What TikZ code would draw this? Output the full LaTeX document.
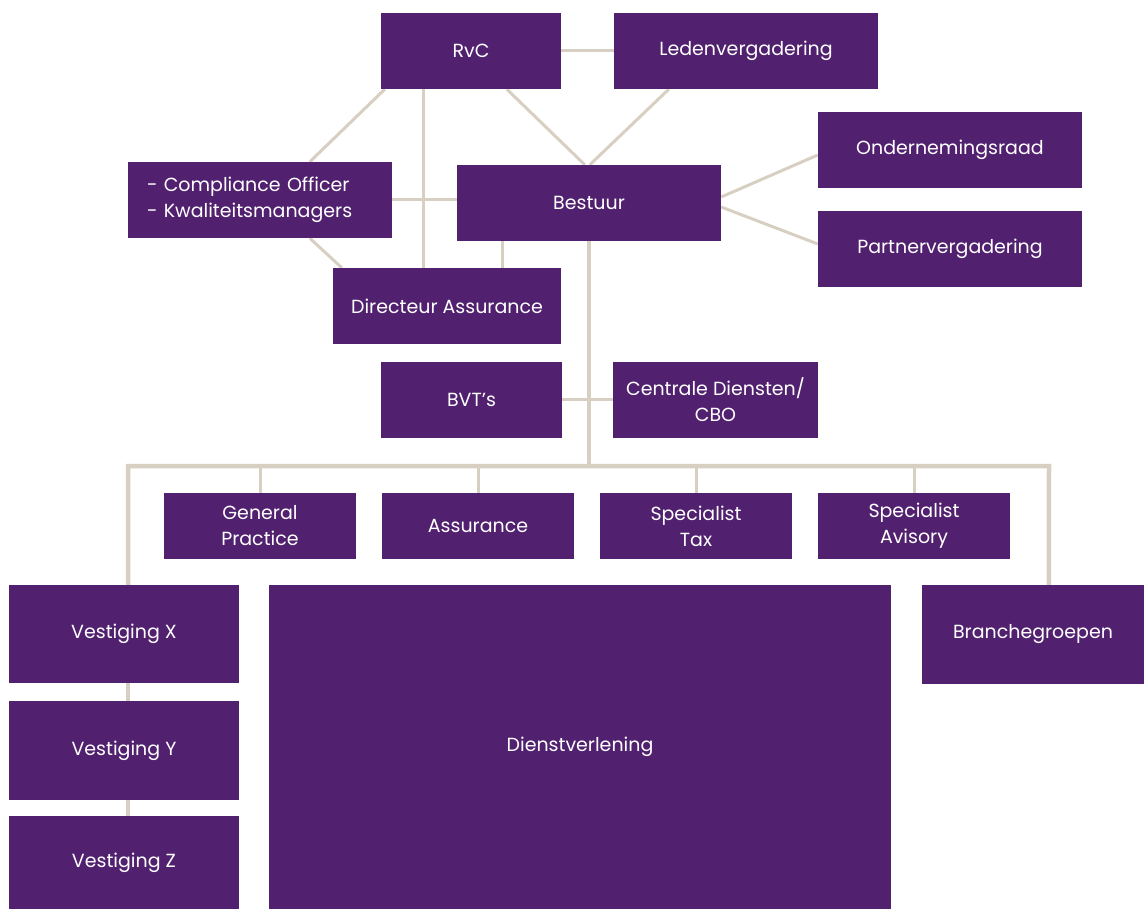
\documentclass[tikz,border=0pt]{standalone}
\usepackage{fontspec}
\setmainfont{Poppins}
\usetikzlibrary{calc,backgrounds}
\definecolor{plum}{HTML}{51216F}
\definecolor{sand}{HTML}{D8CFC3}
\tikzset{
  box/.style={fill=plum, text=white, inner sep=0pt, align=center,
    font=\fontsize{19}{26}\selectfont},
  thinline/.style={draw=sand, line width=3pt},
  thickline/.style={draw=sand, line width=4.5pt},
}
\begin{document}
\begin{tikzpicture}[x=1pt, y=-1pt]
\useasboundingbox (0,0) rectangle (1144,909);

% top governance
\node[box, minimum width=180, minimum height=76] (rvc) at (471,51) {RvC};
\node[box, minimum width=264, minimum height=76] (leden) at (746,51) {Ledenvergadering};
\node[box, minimum width=264, minimum height=76] (ond) at (950,150) {Ondernemingsraad};
\node[box, minimum width=264, minimum height=76] (partner) at (950,249) {Partnervergadering};
\node[box, minimum width=264, minimum height=76, text width=226, inner xsep=19pt, align=left] (comp) at (260,200) {- Compliance Officer\\- Kwaliteitsmanagers};
\node[box, minimum width=264, minimum height=76] (bestuur) at (589,203) {Bestuur};
\node[box, minimum width=228, minimum height=76] (dir) at (447,306) {Directeur Assurance};
\node[box, minimum width=181, minimum height=76] (bvt) at (471.5,400) {BVT’s};
\node[box, minimum width=205, minimum height=76] (cbo) at (715.5,400) {Centrale Diensten/\\CBO};

% practice groups
\node[box, minimum width=192, minimum height=66] (gp) at (260,526) {General\\Practice};
\node[box, minimum width=192, minimum height=66] (ass) at (478,526) {Assurance};
\node[box, minimum width=192, minimum height=66] (tax) at (696,526) {Specialist\\Tax};
\node[box, minimum width=192, minimum height=66] (adv) at (914,526) {Specialist\\Avisory};

% bottom row
\node[box, minimum width=230, minimum height=98] (vx) at (124,634) {Vestiging X};
\node[box, minimum width=230, minimum height=99] (vy) at (124,750.5) {Vestiging Y};
\node[box, minimum width=230, minimum height=93] (vz) at (124,862.5) {Vestiging Z};
\node[box, minimum width=622, minimum height=324] (dienst) at (580,747) {Dienstverlening};
\node[box, minimum width=222, minimum height=99] (branche) at (1033,634.5) {Branchegroepen};

\begin{scope}[on background layer]
  % thin relations
  \draw[thinline] (rvc.east) -- (leden.west);
  \draw[thinline] ($(rvc.south west)+(4,0)$) -- ($(comp.north west)+(182,0)$);
  \draw[thinline] ($(rvc.south west)+(43,0)$) -- ($(dir.north west)+(91,0)$);
  \draw[thinline] ($(rvc.south west)+(126,0)$) -- ($(bestuur.north west)+(128,0)$);
  \draw[thinline] ($(leden.south west)+(55,0)$) -- ($(bestuur.north west)+(133,0)$);
  \draw[thinline] (comp.east) -- (comp.east -| bestuur.west);
  \draw[thinline] ($(comp.south west)+(182,0)$) -- ($(dir.north west)+(9,0)$);
  \draw[thinline] ($(bestuur.south west)+(46,0)$) -- ($(dir.north west)+(170,0)$);
  \draw[thinline] ($(bestuur.east)+(0,-6)$) -- ($(ond.west)+(0,5)$);
  \draw[thinline] ($(bestuur.east)+(0,4)$) -- ($(partner.west)+(0,-5)$);
  \draw[thinline] (bvt.east) -- (cbo.west);

  % main trunk and bus
  \coordinate (busL) at (128,466);
  \coordinate (busR) at (1049,466);
  \draw[thickline] (bestuur.south) -- (bestuur.south |- busL);
  \draw[thickline] ($(vx.north)+(4,0)$) -- (busL) -- (busR) -- ($(branche.north west)+(127,0)$);
  \draw[thinline] (gp.north) -- (gp.north |- busL);
  \draw[thinline] (ass.north) -- (ass.north |- busL);
  \draw[thinline] (tax.north) -- (tax.north |- busL);
  \draw[thinline] (adv.north) -- (adv.north |- busL);

  % branch chain
  \draw[thickline] ($(vx.south)+(4,0)$) -- ($(vy.north)+(4,0)$);
  \draw[thickline] ($(vy.south)+(4,0)$) -- ($(vz.north)+(4,0)$);
\end{scope}
\end{tikzpicture}
\end{document}
